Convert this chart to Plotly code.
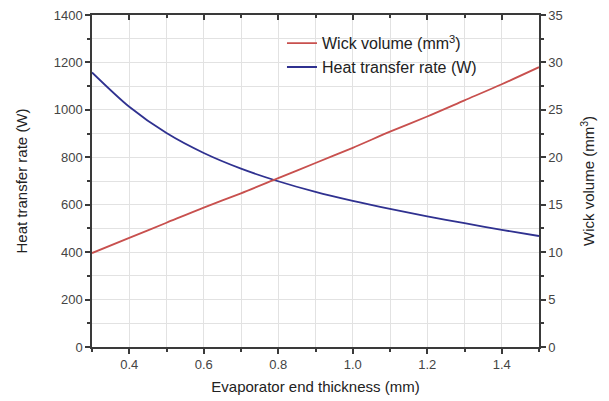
import plotly.graph_objects as go

thickness = [0.3, 0.4, 0.5, 0.6, 0.7, 0.8, 0.9, 1.0, 1.1, 1.2, 1.3, 1.4, 1.5]
heat_rate = [1158, 1013, 902, 818, 752, 699, 654, 616, 582, 551, 522, 494, 468]
wick_volume = [9.9, 11.5, 13.1, 14.7, 16.2, 17.8, 19.4, 21.0, 22.7, 24.3, 26.0, 27.7, 29.5]

RED = "#c8504e"
BLUE = "#2f3190"
AX = "#3a3a3a"
FONT = "Liberation Sans, Arial, sans-serif"

fig = go.Figure()
fig.add_trace(go.Scatter(x=thickness, y=wick_volume, mode="lines", name="Wick volume (mm<sup>3</sup>)",
                         line=dict(color=RED, width=1.8, shape="spline", smoothing=0.8), yaxis="y2"))
fig.add_trace(go.Scatter(x=thickness, y=heat_rate, mode="lines", name="Heat transfer rate (W)",
                         line=dict(color=BLUE, width=1.8, shape="spline", smoothing=0.8)))
fig.add_trace(go.Scatter(x=[thickness[0]], y=[heat_rate[0]], xaxis="x2", mode="lines",
                         showlegend=False, hoverinfo="skip", line=dict(color="rgba(0,0,0,0)")))

fig.update_layout(
    width=609, height=401,
    margin=dict(l=92, r=70, t=15, b=54, autoexpand=False),
    paper_bgcolor="white", plot_bgcolor="white",
    font=dict(family=FONT, color="#333333", size=13),
    showlegend=True,
    legend=dict(x=0.425, y=0.966, xanchor="left", yanchor="top", bgcolor="rgba(255,255,255,0)",
                font=dict(size=16, color="#222222"), tracegroupgap=0),
    xaxis=dict(range=[0.3, 1.5], tickvals=[0.4, 0.6, 0.8, 1.0, 1.2, 1.4], tickformat=".1f",
               ticks="outside", ticklen=5, tickwidth=1.5, tickcolor=AX, automargin=False,
               showline=True, linecolor=AX, linewidth=1.5,
               showgrid=True, gridcolor="#e2e2e2", gridwidth=1,
               minor=dict(dtick=0.1, tick0=0.3, ticks="outside", ticklen=3, tickcolor=AX,
                          showgrid=True, gridcolor="#e2e2e2"),
               zeroline=False,
               title=dict(text="Evaporator end thickness (mm)", font=dict(size=15, color="#222222"), standoff=10),
               tickfont=dict(size=13, color="#444444")),
    xaxis2=dict(overlaying="x", side="top", range=[0.3, 1.5], tickvals=[0.4, 0.6, 0.8, 1.0, 1.2, 1.4],
                ticks="inside", ticklen=5, tickwidth=1.5, tickcolor=AX, showticklabels=False,
                showline=True, linecolor=AX, linewidth=1.5, showgrid=False, zeroline=False, automargin=False,
                minor=dict(dtick=0.1, tick0=0.3, ticks="inside", ticklen=3, tickcolor=AX)),
    yaxis=dict(range=[0, 1400], dtick=200, ticks="outside", ticklen=5, tickwidth=1.5, tickcolor=AX,
               showline=True, linecolor=AX, linewidth=1.5, automargin=False,
               showgrid=True, gridcolor="#e2e2e2", gridwidth=1,
               minor=dict(dtick=100, ticks="outside", ticklen=3, tickcolor=AX,
                          showgrid=True, gridcolor="#e2e2e2"),
               zeroline=False,
               title=dict(text="Heat transfer rate (W)", font=dict(size=15, color="#222222"), standoff=22),
               tickfont=dict(size=13, color="#444444")),
    yaxis2=dict(range=[0, 35], dtick=5, overlaying="y", side="right",
                ticks="outside", ticklen=5, tickwidth=1.5, tickcolor=AX, automargin=False,
                showline=True, linecolor=AX, linewidth=1.5, showgrid=False, zeroline=False,
                minor=dict(dtick=2.5, ticks="outside", ticklen=3, tickcolor=AX),
                title=dict(text="Wick volume (mm<sup>3</sup>)", font=dict(size=15, color="#222222"), standoff=22),
                tickfont=dict(size=13, color="#444444")),
)

fig.write_html("out.html")
